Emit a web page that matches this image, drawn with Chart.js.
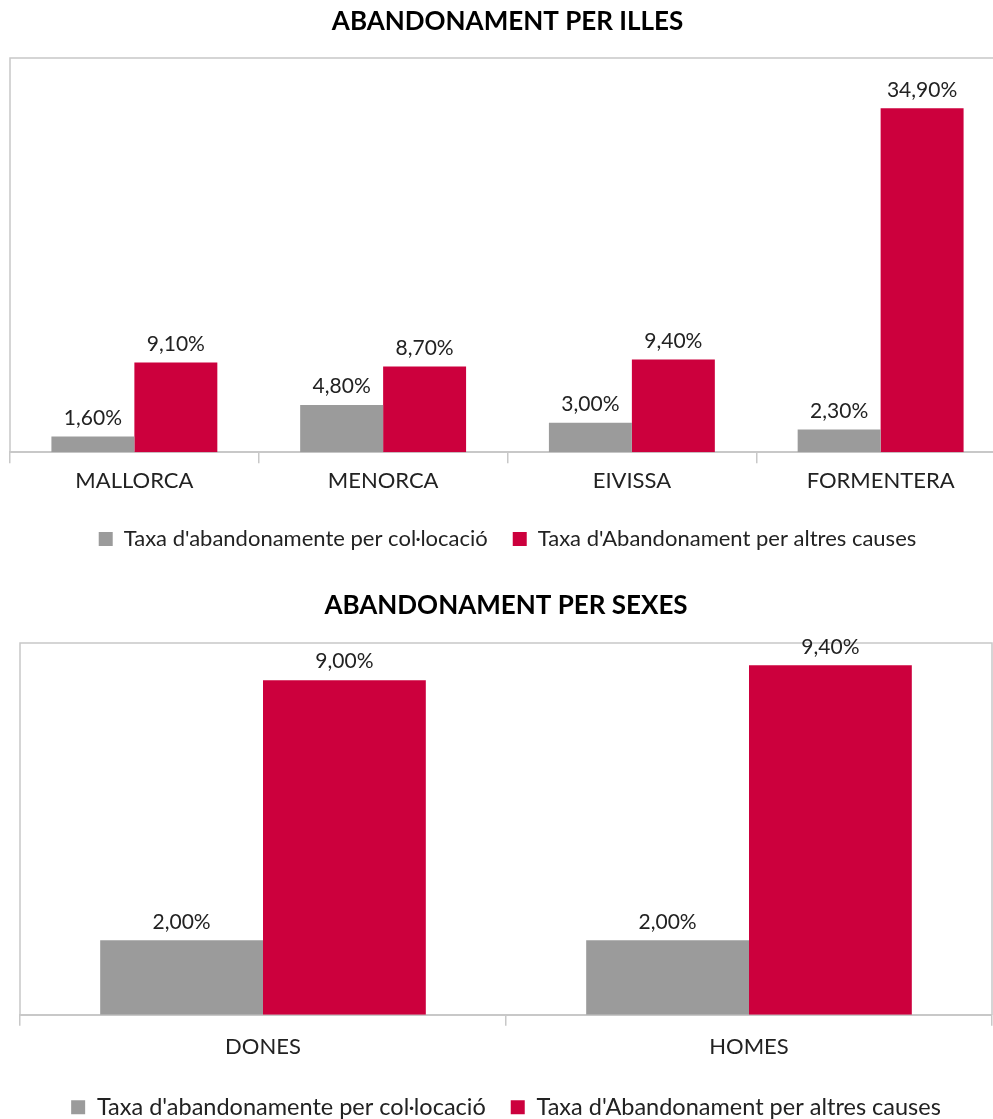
<!DOCTYPE html>
<html lang="ca">
<head>
  <meta charset="UTF-8">
  <title>Abandonament</title>
  <script src="https://cdn.jsdelivr.net/npm/chart.js"></script>
  <style>
    html, body {
      margin: 0;
      overflow: hidden;
    }
    body {
      width: 993px;
      height: 1119px;
      position: relative;
      background: #fff;
    }
    canvas {
      position: absolute;
      left: 0;
    }
    #illesChart { top: 0; }
    #sexesChart { top: 570px; }
  </style>
</head>
<body>
  <canvas id="illesChart" width="1005" height="560"></canvas>
  <canvas id="sexesChart" width="993" height="559"></canvas>
  <script>
    // dades
    const illes = ['MALLORCA', 'MENORCA', 'EIVISSA', 'FORMENTERA'];
    const illesColocacio = [1.6, 4.8, 3.0, 2.3];
    const illesAltres = [9.1, 8.7, 9.4, 34.9];

    const sexes = ['DONES', 'HOMES'];
    const sexesColocacio = [2.0, 2.0];
    const sexesAltres = [9.0, 9.4];

    const serieNoms = ["Taxa d'abandonamente per col·locació", "Taxa d'Abandonament per altres causes"];
    const colors = ['#9b9b9b', '#cc003d'];
    const FONT = 'Lato, "Noto Sans", sans-serif';

    const fmt = v => v.toFixed(2).replace('.', ',') + '%';

    // etiquetes de valor damunt les barres
    const valueLabels = {
      id: 'valueLabels',
      afterDatasetsDraw(chart) {
        const ctx = chart.ctx;
        ctx.save();
        ctx.font = '21px ' + FONT;
        ctx.fillStyle = '#222';
        ctx.textAlign = 'center';
        ctx.textBaseline = 'bottom';
        chart.data.datasets.forEach((ds, i) => {
          chart.getDatasetMeta(i).data.forEach((bar, j) => {
            ctx.fillText(fmt(ds.data[j]), bar.x, bar.y - 8);
          });
        });
        ctx.restore();
      }
    };

    // marc de l'àrea del gràfic
    const plotBorder = {
      id: 'plotBorder',
      beforeDatasetsDraw(chart, args, opts) {
        const {left, right, top, bottom} = chart.chartArea;
        const ctx = chart.ctx;
        ctx.save();
        ctx.strokeStyle = '#c8c8c8';
        ctx.lineWidth = 1.5;
        ctx.beginPath();
        ctx.moveTo(left, bottom);
        ctx.lineTo(left, top);
        ctx.lineTo(right, top);
        if (opts.right) ctx.lineTo(right, bottom);
        ctx.stroke();
        ctx.restore();
      }
    };

    function makeChart(id, labels, colocacio, altres, cfg) {
      return new Chart(document.getElementById(id), {
        type: 'bar',
        data: {
          labels: labels,
          datasets: [
            { label: serieNoms[0], data: colocacio, backgroundColor: colors[0] },
            { label: serieNoms[1], data: altres, backgroundColor: colors[1] }
          ]
        },
        options: {
          responsive: false,
          animation: false,
          datasets: { bar: { categoryPercentage: cfg.catPct, barPercentage: 1 } },
          layout: { padding: cfg.padding },
          scales: {
            x: {
              grid: { display: true, drawOnChartArea: false, drawTicks: true, tickLength: 11, color: '#c8c8c8', lineWidth: 1.5 },
              border: { display: true, color: '#c8c8c8', width: 2 },
              ticks: { color: '#222', font: { family: FONT, size: 22 }, padding: cfg.tickPad, maxRotation: 0 },
              afterFit(scale) { scale.height += cfg.extra; }
            },
            y: { display: false, min: 0, max: cfg.max }
          },
          plugins: {
            title: {
              display: true,
              text: cfg.title,
              color: '#000',
              font: { family: FONT, size: 26, weight: 'bold' },
              padding: cfg.titlePad
            },
            legend: {
              position: 'bottom',
              labels: {
                color: '#222',
                boxWidth: 14,
                boxHeight: 14,
                padding: 25,
                font: { family: FONT, size: cfg.legendSize }
              }
            },
            tooltip: { enabled: false },
            plotBorder: { right: cfg.rightBorder }
          }
        },
        plugins: [valueLabels, plotBorder]
      });
    }

    makeChart('illesChart', illes, illesColocacio, illesAltres, {
      title: 'ABANDONAMENT PER ILLES',
      max: 40,
      catPct: 0.667,
      padding: { left: 10, right: 0, top: 0, bottom: 0 },
      titlePad: { top: 6.4, bottom: 20.4 },
      tickPad: 4.8,
      extra: 3.8,
      legendSize: 22,
      rightBorder: false
    });

    makeChart('sexesChart', sexes, sexesColocacio, sexesAltres, {
      title: 'ABANDONAMENT PER SEXES',
      max: 10,
      catPct: 0.67,
      padding: { left: 20, right: 1, top: 0, bottom: 0 },
      titlePad: { top: 20.4, bottom: 21.4 },
      tickPad: 7.8,
      extra: 2.8,
      legendSize: 23.5,
      rightBorder: true
    });
  </script>
</body>
</html>
